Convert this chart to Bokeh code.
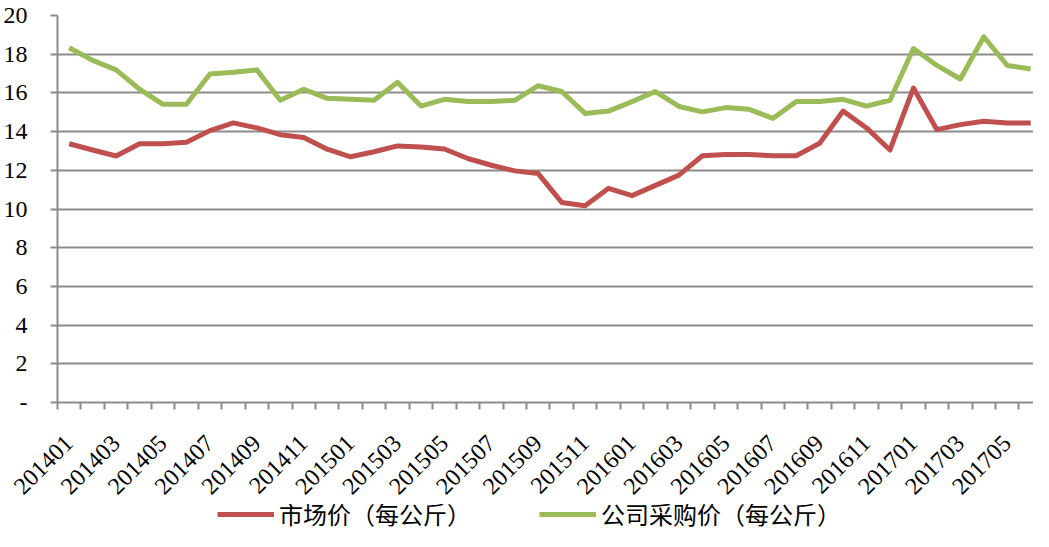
import math
from bokeh.plotting import figure
from bokeh.layouts import column
from bokeh.models import Range1d, FixedTicker, Legend, LegendItem
from bokeh.embed import file_html
from bokeh.resources import INLINE

months = ["201401", "201402", "201403", "201404", "201405", "201406",
          "201407", "201408", "201409", "201410", "201411", "201412",
          "201501", "201502", "201503", "201504", "201505", "201506",
          "201507", "201508", "201509", "201510", "201511", "201512",
          "201601", "201602", "201603", "201604", "201605", "201606",
          "201607", "201608", "201609", "201610", "201611", "201612",
          "201701", "201702", "201703", "201704", "201705", "201706"]

market_price = [13.37, 13.05, 12.74, 13.37, 13.37, 13.45, 14.05, 14.45, 14.19, 13.84, 13.70, 13.09,
                12.70, 12.96, 13.26, 13.20, 13.10, 12.61, 12.26, 11.97, 11.83, 10.34, 10.17, 11.07,
                10.69, 11.22, 11.75, 12.75, 12.82, 12.82, 12.75, 12.75, 13.40, 15.06, 14.19, 13.05,
                16.25, 14.10, 14.36, 14.53, 14.45, 14.45]

purchase_price = [18.33, 17.68, 17.19, 16.19, 15.41, 15.41, 16.98, 17.07, 17.19, 15.62, 16.19, 15.72,
                  15.67, 15.62, 16.55, 15.32, 15.67, 15.55, 15.55, 15.62, 16.37, 16.07, 14.94, 15.06,
                  15.55, 16.07, 15.30, 15.02, 15.24, 15.15, 14.68, 15.55, 15.55, 15.67, 15.32, 15.62,
                  18.29, 17.42, 16.72, 18.90, 17.42, 17.24]

series_names = ["市场价（每公斤）", "公司采购价（每公斤）"]
y_ticks = list(range(0, 21, 2))

RED = "#C0504D"
GREEN = "#9BBB59"
GRAY = "#8C8C8C"
SERIF = "Liberation Serif"

x = list(range(len(months)))

p = figure(width=1033, height=504, output_backend="svg", toolbar_location=None,
           x_range=Range1d(-0.5, 41.12), y_range=Range1d(0, 20),
           min_border_left=57, min_border_right=0, min_border_top=15, min_border_bottom=100)
p.outline_line_color = None
p.background_fill_color = "white"
p.border_fill_color = "white"

# y axis
p.yaxis.ticker = FixedTicker(ticks=y_ticks)
p.yaxis.major_label_overrides = {0: "-"}
p.yaxis.major_tick_out = 7
p.yaxis.major_tick_in = 0
p.yaxis.minor_tick_line_color = None
p.yaxis.axis_line_color = GRAY
p.yaxis.axis_line_width = 2
p.yaxis.major_tick_line_color = GRAY
p.yaxis.major_tick_line_width = 2
p.yaxis.major_label_standoff = 23
p.yaxis.major_label_text_font = SERIF
p.yaxis.major_label_text_font_size = "24px"
p.yaxis.major_label_text_color = "black"

# x axis
p.xaxis.ticker = FixedTicker(ticks=list(range(0, len(months), 2)),
                             minor_ticks=[i - 0.5 for i in range(len(months) + 1)])
p.xaxis.major_label_overrides = {i: months[i] for i in range(0, len(months), 2)}
p.xaxis.major_tick_line_color = None
p.xaxis.major_tick_out = 0
p.xaxis.major_tick_in = 0
p.xaxis.minor_tick_out = 7
p.xaxis.minor_tick_in = 0
p.xaxis.minor_tick_line_color = GRAY
p.xaxis.minor_tick_line_width = 2
p.xaxis.axis_line_color = GRAY
p.xaxis.axis_line_width = 2
p.xaxis.major_label_orientation = math.pi / 4
p.xaxis.major_label_standoff = 30
p.xaxis.major_label_text_font = SERIF
p.xaxis.major_label_text_font_size = "24px"
p.xaxis.major_label_text_color = "black"

# grid
p.xgrid.visible = False
p.ygrid.ticker = FixedTicker(ticks=y_ticks)
p.ygrid.grid_line_color = GRAY
p.ygrid.grid_line_width = 2

p.line(x, market_price, line_color=RED, line_width=5, line_join="round")
p.line(x, purchase_price, line_color=GREEN, line_width=5, line_join="round")

# legend strip below the chart (its own lines fall outside its ranges, only the legend shows)
leg = figure(width=1033, height=27, output_backend="svg", toolbar_location=None,
             x_axis_type=None, y_axis_type=None,
             x_range=Range1d(0, 1), y_range=Range1d(0, 1),
             min_border=0, min_border_left=0, min_border_right=0, min_border_top=0, min_border_bottom=0)
leg.outline_line_color = None
leg.border_fill_color = "white"
leg.title.visible = False
lr1 = leg.line(x, market_price, line_color=RED, line_width=5)
lr2 = leg.line(x, purchase_price, line_color=GREEN, line_width=5)

legend = Legend(items=[LegendItem(label=series_names[0], renderers=[lr1]),
                       LegendItem(label=series_names[1], renderers=[lr2])],
                location=(160, 0), orientation="horizontal",
                glyph_width=57, glyph_height=20, label_height=20,
                label_standoff=5, spacing=68, padding=0, margin=0,
                border_line_color=None, background_fill_alpha=0,
                label_text_font="Noto Sans CJK SC", label_text_font_size="24px",
                label_text_line_height=1.0,
                label_text_color="black")
leg.add_layout(legend, "center")

layout = column(p, leg, spacing=0)
open("out.html", "w").write(file_html(layout, INLINE))
